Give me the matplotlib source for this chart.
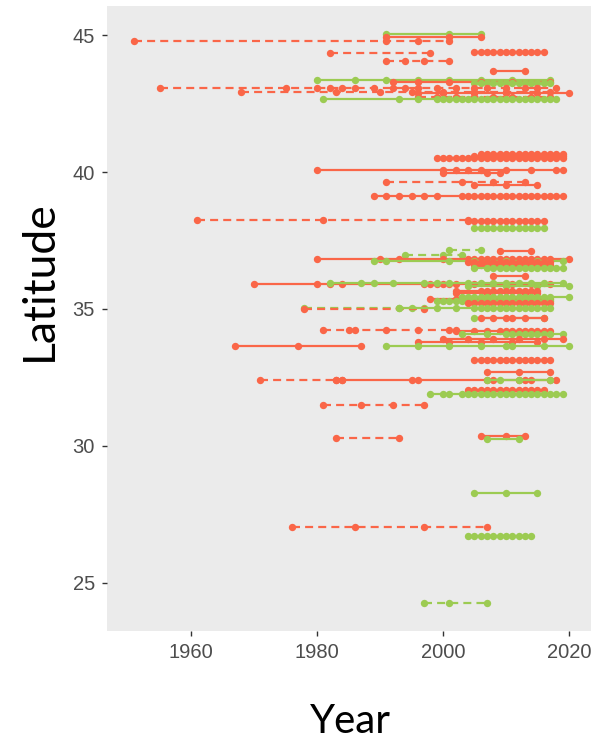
import matplotlib
matplotlib.use("Agg")
import matplotlib.pyplot as plt

# ---- data: one entry per sampling series (site) ----
site_lat = [
    45.05, 44.93, 44.80, 44.35, 44.38, 44.07, 43.68,
    43.37, 43.30, 43.27, 43.07, 42.92, 42.88, 42.75, 42.68,
    40.50, 40.60, 40.66, 40.06, 39.97, 39.64, 39.54, 39.11,
    38.24, 38.22, 37.96,
    37.17, 36.98, 37.10, 36.84, 36.76, 36.70, 36.60, 36.50, 36.22,
    35.92, 35.95, 35.83, 35.59, 35.64, 35.37, 35.44, 35.28, 35.22,
    35.02, 35.00, 35.05, 34.67, 34.67,
    34.22, 34.20, 34.07, 33.89, 33.78, 33.64, 33.64, 33.13,
    32.70, 32.39, 32.39, 32.39, 32.03, 31.88, 31.49,
    30.30, 30.36, 30.25, 28.29, 27.03, 26.70, 24.27,
]
site_group = [
    "G", "R", "R", "R", "R", "R", "R",
    "G", "R", "G", "R", "R", "R", "R", "G",
    "R", "R", "R", "R", "R", "R", "R", "R",
    "R", "R", "G",
    "G", "G", "R", "R", "G", "R", "R", "G", "R",
    "R", "G", "G", "R", "R", "R", "G", "G", "R",
    "G", "R", "G", "G", "R",
    "R", "R", "G", "R", "R", "R", "G", "R",
    "R", "R", "R", "G", "R", "G", "R",
    "R", "R", "G", "G", "R", "G", "G",
]
site_dashed = [
    False, False, True, True, False, True, False,
    False, False, False, True, True, False, True, False,
    False, False, False, False, False, True, False, False,
    True, False, False,
    True, True, False, False, False, False, False, False, False,
    False, False, False, False, False, False, False, False, False,
    True, True, False, False, False,
    True, False, False, False, False, False, False, False,
    False, True, False, False, False, False, True,
    True, False, False, False, True, False, True,
]
site_years = [
    [1991, 2001, 2006],
    [1991, 2001, 2006],
    [1951, 1991, 1996, 2001],
    [1982, 1998],
    [2005, 2006, 2007, 2008, 2009, 2010, 2011, 2012, 2013, 2014, 2015, 2016],
    [1991, 1994, 1997, 2001],
    [2008, 2013],
    [1980, 1986, 1991, 1996, 2001, 2006, 2011, 2017],
    [1992, 1996, 2001, 2006, 2011, 2017],
    [2005, 2006, 2007, 2008, 2009, 2010, 2011, 2012, 2013, 2014, 2015, 2016, 2017],
    [1955, 1975, 1980, 1982, 1984, 1986, 1989, 1992, 1994, 1996, 1999, 2002,
     2005, 2007, 2010, 2013, 2015, 2018],
    [1968, 1983, 1990, 1995, 2000, 2005, 2010, 2017],
    [1996, 2000, 2005, 2010, 2015, 2020],
    [1996, 1999, 2002, 2005, 2008, 2011, 2014, 2017],
    [1981, 1993, 1996, 1999, 2000, 2001, 2002, 2003, 2004, 2005, 2006, 2007,
     2008, 2009, 2010, 2011, 2012, 2013, 2014, 2015, 2016, 2017, 2018],
    [1999, 2000, 2001, 2002, 2003, 2004, 2005, 2006, 2007, 2008, 2009, 2010,
     2011, 2012, 2013, 2014, 2015, 2016, 2017, 2018, 2019],
    [2005, 2006, 2007, 2008, 2009, 2010, 2011, 2012, 2013, 2014, 2015, 2016,
     2017, 2018, 2019],
    [2006, 2007, 2008, 2009, 2010, 2011, 2012, 2013, 2014, 2015, 2016, 2017,
     2018, 2019],
    [1980, 2000, 2002, 2004, 2006, 2010, 2014, 2018, 2019],
    [2000, 2007, 2009],
    [1991, 2003, 2008, 2013],
    [2005, 2010, 2015],
    [1989, 1991, 1993, 1995, 1997, 1999, 2003, 2004, 2005, 2006, 2007, 2008,
     2009, 2010, 2011, 2012, 2013, 2014, 2015, 2016, 2017, 2018, 2019],
    [1961, 1981, 2004],
    [2004, 2005, 2006, 2007, 2008, 2009, 2010, 2011, 2012, 2013, 2014, 2015, 2016],
    [2005, 2006, 2007, 2008, 2009, 2010, 2011, 2012, 2013, 2014, 2015, 2016],
    [2001, 2006],
    [1994, 2000, 2003],
    [2009, 2014],
    [1980, 1990, 1993, 2000, 2004, 2005, 2006, 2007, 2008, 2009, 2010, 2011,
     2012, 2013, 2014, 2015, 2016, 2017, 2020],
    [1989, 1991, 2001, 2005, 2010, 2015, 2019],
    [2004, 2005, 2006, 2007, 2008, 2009, 2010, 2011, 2012, 2013, 2014, 2015,
     2016, 2017],
    [2005, 2006, 2007, 2008, 2009, 2010, 2011, 2012, 2013, 2014, 2015, 2016, 2017],
    [2005, 2007, 2008, 2009, 2010, 2011, 2012, 2013, 2014, 2015, 2016, 2017,
     2018, 2019],
    [2008, 2013],
    [1970, 1980, 1982, 1984, 1997, 1998, 1999, 2000, 2001, 2002, 2005, 2008,
     2011, 2014, 2017],
    [1982, 1987, 1989, 1992, 1997, 1999, 2001, 2004, 2006, 2008, 2010, 2012,
     2014, 2016, 2019],
    [2004, 2010, 2015, 2020],
    [2002, 2007, 2013, 2015],
    [2002, 2006, 2007, 2008, 2009, 2010, 2011, 2012, 2013, 2014, 2015],
    [1998, 2002, 2005, 2006, 2007, 2008, 2009, 2010, 2011, 2012, 2013, 2014,
     2015, 2016, 2017],
    [2003, 2004, 2005, 2006, 2007, 2008, 2009, 2010, 2011, 2012, 2013, 2014,
     2015, 2016, 2017, 2020],
    [1999, 2000, 2001, 2002, 2003, 2004, 2005, 2006, 2007, 2008, 2009, 2010,
     2011, 2012, 2013, 2014, 2015, 2016, 2017],
    [2004, 2005, 2006, 2007, 2008, 2009, 2010, 2011, 2012, 2013, 2014, 2015,
     2016, 2017],
    [1978, 1993, 1995, 1997],
    [1978, 1997],
    [1993, 1999, 2002, 2005, 2006, 2007, 2008, 2009, 2010, 2011, 2012, 2013,
     2014, 2015, 2016, 2017],
    [2005, 2016],
    [2006, 2008, 2010, 2011, 2013, 2016],
    [1981, 1985, 1986, 1991, 1996, 2001, 2002],
    [2002, 2005, 2007, 2009, 2010, 2011, 2012, 2013, 2014, 2015, 2016, 2017],
    [2003, 2007, 2010, 2011, 2012, 2013, 2014, 2015, 2016, 2017, 2019],
    [2000, 2004, 2008, 2012, 2016, 2019],
    [1996, 2001, 2006, 2011, 2015],
    [1967, 1977, 1987],
    [1991, 1996, 2001, 2006, 2010, 2011, 2016, 2020],
    [2005, 2006, 2007, 2008, 2009, 2010, 2011, 2012, 2013, 2014, 2015, 2016, 2017],
    [2007, 2012, 2017],
    [1971, 1983, 1984],
    [1983, 1984, 1995, 1996, 2007, 2008, 2012, 2013, 2014, 2017, 2018],
    [2007, 2009, 2012, 2017],
    [2004, 2005, 2006, 2007, 2008, 2009, 2010, 2011, 2012, 2013, 2014, 2015, 2016],
    [1998, 2000, 2001, 2003, 2004, 2005, 2006, 2007, 2008, 2009, 2010, 2011,
     2012, 2013, 2014, 2015, 2016, 2017, 2018, 2019],
    [1981, 1987, 1992, 1997],
    [1983, 1993],
    [2006, 2010, 2013],
    [2007, 2012],
    [2005, 2010, 2015],
    [1976, 1986, 1997, 2007],
    [2004, 2005, 2006, 2007, 2008, 2009, 2010, 2011, 2012, 2013, 2014],
    [1997, 2001, 2007],
]

group_colors = {"R": "#FA6648", "G": "#9CCB52"}
x_ticks = [1960, 1980, 2000, 2020]
y_ticks = [25, 30, 35, 40, 45]

fig = plt.figure(figsize=(5.95, 7.41), dpi=100)
ax = fig.add_axes([106.7 / 595, 1 - 630.7 / 741, (591 - 106.7) / 595, (630.7 - 6) / 741])
ax.set_facecolor("#EBEBEB")
for s in ax.spines.values():
    s.set_visible(False)

for lat, grp, dashed, yrs in zip(site_lat, site_group, site_dashed, site_years):
    ls = (0, (3.6, 2.3)) if dashed else "-"
    ax.plot(yrs, [lat] * len(yrs), color=group_colors[grp], linestyle=ls,
            linewidth=1.6, marker="o", markersize=5.3, markeredgewidth=0,
            solid_capstyle="butt", dash_capstyle="butt")

ax.set_xlim(1946.6, 2023.5)
ax.set_ylim(23.24, 46.07)
ax.set_xticks(x_ticks)
ax.set_yticks(y_ticks)
ax.set_xticklabels([str(t) for t in x_ticks], family="Liberation Sans")
ax.set_yticklabels([str(t) for t in y_ticks], family="Liberation Sans")
ax.tick_params(axis="both", length=3.6, width=1.0, color="#333333",
               labelcolor="#4D4D4D", labelsize=14.5)
ax.tick_params(axis="x", pad=5)
ax.tick_params(axis="y", pad=5)

fig.text(350.5 / 595, 1 - 733 / 741, "Year", family="Lato", fontsize=29,
         ha="center", va="baseline", color="black")
fig.text(39 / 595, 1 - 281 / 741, "Latitude", family="Lato", fontsize=32,
         ha="center", va="center", rotation=90, color="black")

fig.savefig("out.png", dpi=100, facecolor="white")
